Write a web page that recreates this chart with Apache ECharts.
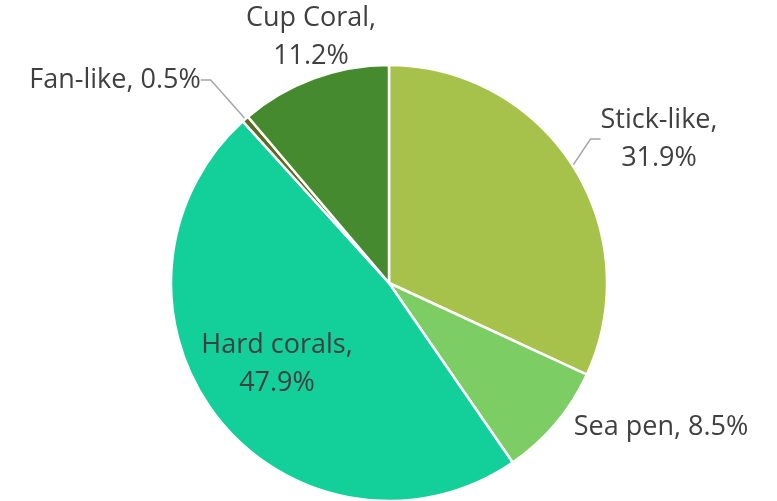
<!DOCTYPE html>
<html><head><meta charset="utf-8">
<script src="https://cdn.jsdelivr.net/npm/echarts@6/dist/echarts.min.js"></script>
<style>html,body{margin:0;padding:0;background:#fff}#c{width:777px;height:501px}</style>
</head><body><div id="c"></div>
<script>
const categories = ['Stick-like', 'Sea pen', 'Hard corals', 'Fan-like', 'Cup Coral'];
const values = [31.9, 8.5, 47.9, 0.5, 11.2];
const colors = ['#a6c24a', '#7bcd64', '#13cf9a', '#5b6b1f', '#468a2f'];
const labelTexts = ['Stick-like,\n31.9%', 'Sea pen, 8.5%', 'Hard corals,\n47.9%', 'Fan-like, 0.5%', 'Cup Coral,\n11.2%'];
const labelPos = [[659, 139], [661, 427], [277, 364], [115, 80], [311, 37]];
const showLine = [true, false, false, true, false];

const chart = echarts.init(document.getElementById('c'));
chart.setOption({
  animation: false,
  series: [{
    type: 'pie',
    center: [389, 283],
    radius: 218,
    startAngle: 90,
    clockwise: true,
    itemStyle: { borderColor: '#fff', borderWidth: 2.5 },
    label: {
      show: true, position: 'outside',
      fontFamily: 'Open Sans', fontSize: 27, color: '#404040', lineHeight: 38, align: 'center',
      formatter: p => labelTexts[p.dataIndex]
    },
    labelLine: { show: true, length: 15, length2: 10, lineStyle: { color: '#a6a6a6', width: 1.5 } },
    labelLayout: p => ({ x: labelPos[p.dataIndex][0], y: labelPos[p.dataIndex][1], align: 'center', verticalAlign: 'middle' }),
    data: categories.map((c, i) => ({
      name: c, value: values[i],
      itemStyle: { color: colors[i] },
      labelLine: { show: showLine[i] }
    }))
  }]
});
</script></body></html>
